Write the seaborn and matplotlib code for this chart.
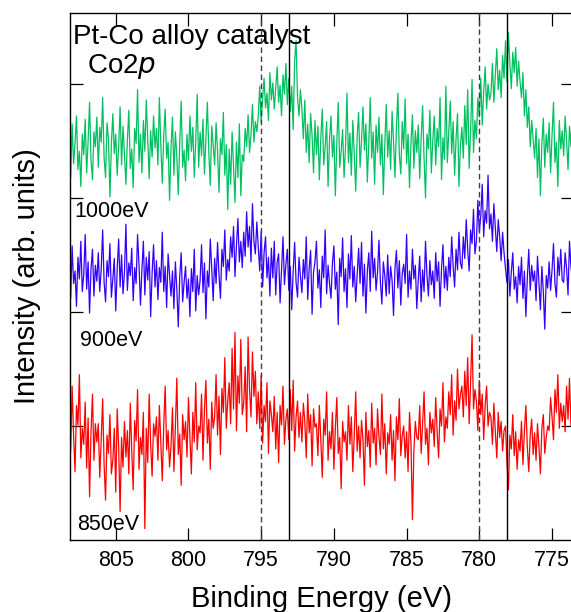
import numpy as np
import pandas as pd
import matplotlib
matplotlib.use("Agg")
import matplotlib.pyplot as plt
import seaborn as sns

# binding energy grid, 0.1 eV step from 808.2 eV down to 773.3 eV (35 rows of 10 points)
energy = np.round(808.2 - 0.1 * np.arange(350), 1)

# Co2p spectra, intensity in arb. units (x100), each already shifted for stacking
green_1000 = [
    352, 318, 365, 330, 348, 372, 325, 341, 310, 356,
    338, 369, 322, 350, 384, 333, 316, 358, 345, 371,
    327, 362, 349, 388, 335, 318, 366, 352, 301, 347,
    374, 339, 356, 320, 345, 380, 329, 363, 338, 312,
    351, 377, 326, 343, 309, 361, 348, 395, 331, 356,
    322, 368, 341, 386, 352, 317, 359, 336, 372, 344,
    361, 329, 388, 346, 313, 355, 378, 335, 349, 298,
    344, 371, 320, 358, 336, 303, 349, 385, 327, 342,
    315, 356, 333, 372, 341, 362, 318, 350, 391, 327,
    358, 337, 369, 321, 352, 384, 340, 311, 363, 346,
    329, 366, 341, 305, 352, 338, 375, 320, 347, 290,
    343, 312, 358, 326, 296, 349, 318, 365, 302, 338,
    332, 361, 345, 373, 340, 356, 382, 349, 367, 358,
    372, 398, 366, 388, 405, 379, 392, 368, 410, 386,
    401, 378, 396, 415, 384, 399, 372, 408, 391, 418,
    382, 405, 376, 398, 360, 420, 438, 388, 372, 395,
    378, 352, 386, 340, 365, 331, 374, 355, 322, 368,
    338, 363, 316, 352, 378, 329, 345, 367, 310, 351,
    372, 336, 355, 302, 348, 384, 327, 341, 360, 318,
    345, 392, 331, 357, 320, 368, 339, 306, 354, 375,
    327, 351, 380, 342, 365, 314, 349, 388, 335, 358,
    312, 364, 340, 371, 329, 356, 303, 347, 382, 336,
    359, 325, 376, 350, 318, 362, 392, 338, 321, 367,
    343, 387, 330, 356, 309, 348, 373, 326, 359, 340,
    364, 317, 352, 381, 335, 300, 356, 343, 377, 322,
    350, 372, 329, 361, 345, 388, 316, 353, 334, 398,
    331, 358, 385, 339, 367, 320, 352, 374, 310, 346,
    362, 335, 381, 347, 395, 326, 358, 404, 340, 368,
    352, 388, 371, 405, 364, 393, 415, 378, 400, 386,
    392, 418, 384, 408, 431, 395, 412, 388, 425, 405,
    438, 402, 445, 418, 396, 428, 410, 432, 398, 420,
    402, 388, 410, 372, 395, 362, 380, 345, 368, 352,
    335, 361, 318, 352, 302, 348, 370, 327, 356, 340,
    366, 322, 355, 384, 331, 349, 310, 368, 343, 359,
    337, 372, 350, 325, 363, 345, 380, 332, 358, 347,
]

blue_900 = [
    240, 212, 258, 225, 236, 205, 248, 229, 262, 218,
    233, 268, 220, 244, 199, 238, 255, 214, 241, 227,
    252, 218, 237, 272, 226, 209, 245, 231, 260, 213,
    229, 247, 201, 238, 264, 222, 250, 216, 235, 277,
    219, 243, 232, 256, 210, 239, 225, 268, 241, 206,
    237, 262, 215, 248, 228, 253, 196, 234, 259, 222,
    245, 211, 239, 226, 270, 218, 240, 204, 251, 233,
    214, 236, 203, 244, 220, 187, 231, 252, 209, 226,
    240, 212, 229, 196, 238, 218, 255, 201, 232, 215,
    228, 259, 217, 243, 194, 236, 222, 264, 238, 210,
    247, 225, 261, 233, 212, 255, 240, 272, 228, 246,
    236, 266, 248, 275, 231, 258, 282, 244, 262, 239,
    270, 249, 288, 257, 275, 244, 295, 262, 251, 279,
    258, 236, 271, 222, 252, 266, 230, 248, 214, 256,
    230, 262, 215, 244, 251, 208, 237, 266, 224, 242,
    255, 219, 240, 202, 236, 261, 226, 213, 248, 231,
    217, 246, 229, 266, 211, 238, 254, 198, 235, 244,
    262, 221, 237, 204, 249, 230, 272, 216, 241, 225,
    212, 243, 258, 220, 235, 189, 247, 231, 265, 218,
    238, 204, 251, 229, 267, 222, 240, 209, 233, 256,
    225, 261, 214, 242, 199, 236, 252, 218, 271, 230,
    247, 219, 235, 263, 226, 207, 244, 232, 214, 250,
    216, 240, 228, 197, 238, 254, 221, 245, 206, 234,
    242, 225, 268, 213, 236, 220, 255, 229, 241, 203,
    228, 249, 209, 237, 218, 262, 232, 214, 245, 224,
    236, 212, 252, 227, 244, 205, 238, 259, 221, 240,
    219, 248, 231, 266, 240, 222, 255, 237, 270, 243,
    238, 266, 247, 281, 255, 236, 272, 260, 290, 251,
    262, 298, 270, 284, 312, 266, 289, 278, 320, 273,
    286, 262, 295, 274, 253, 281, 266, 245, 270, 252,
    238, 226, 246, 214, 235, 252, 220, 231, 208, 240,
    224, 248, 212, 236, 196, 230, 255, 219, 241, 227,
    236, 210, 249, 225, 202, 240, 218, 185, 232, 221,
    244, 219, 237, 260, 225, 213, 248, 232, 255, 228,
    226, 252, 238, 215, 262, 240, 229, 257, 236, 248,
]

red_850 = [
    112, 78, 135, 92, 60, 118, 101, 145, 72, 98,
    84, 121, 63, 107, 38, 95, 128, 70, 102, 86,
    102, 55, 88, 124, 66, 35, 92, 76, 110, 58,
    70, 98, 42, 115, 82, 25, 90, 64, 104, 73,
    96, 58, 120, 78, 44, 105, 87, 132, 62, 90,
    75, 112, 10, 98, 68, 128, 84, 56, 102, 91,
    108, 70, 118, 86, 52, 101, 135, 79, 96, 64,
    82, 116, 60, 99, 142, 75, 93, 48, 110, 88,
    104, 73, 125, 90, 58, 112, 86, 138, 79, 100,
    94, 128, 70, 115, 140, 85, 106, 62, 121, 98,
    108, 145, 92, 126, 75, 133, 112, 160, 98, 122,
    138, 102, 168, 115, 182, 96, 144, 120, 176, 110,
    120, 152, 95, 178, 132, 108, 165, 126, 148, 102,
    130, 98, 145, 85, 118, 104, 138, 76, 122, 110,
    95, 126, 80, 112, 68, 118, 101, 135, 84, 106,
    115, 88, 132, 96, 140, 78, 108, 122, 90, 112,
    86, 120, 104, 72, 128, 94, 110, 65, 115, 99,
    102, 74, 118, 88, 55, 106, 92, 130, 70, 95,
    80, 112, 62, 98, 125, 76, 90, 45, 104, 86,
    95, 70, 118, 84, 108, 60, 92, 130, 78, 100,
    72, 105, 88, 48, 112, 82, 96, 64, 120, 85,
    98, 66, 115, 90, 75, 128, 80, 102, 58, 94,
    84, 110, 70, 96, 52, 108, 88, 124, 74, 92,
    100, 72, 95, 60, 112, 85, 18, 78, 104, 90,
    88, 118, 76, 102, 130, 84, 98, 66, 112, 94,
    106, 82, 125, 95, 72, 115, 100, 138, 86, 108,
    98, 130, 110, 145, 92, 122, 105, 150, 115, 128,
    135, 108, 148, 118, 160, 102, 138, 180, 115, 132,
    122, 96, 140, 110, 128, 88, 118, 135, 100, 112,
    108, 84, 120, 95, 72, 112, 90, 104, 78, 96,
    100, 68, 44, 92, 80, 110, 74, 95, 62, 88,
    78, 104, 66, 96, 118, 82, 60, 92, 106, 75,
    94, 70, 102, 82, 58, 98, 110, 76, 90, 100,
    96, 125, 108, 88, 132, 112, 145, 98, 120, 104,
    118, 95, 135, 106, 142, 100, 122, 88, 128, 112,
]

series_names = ["1000eV", "900eV", "850eV"]
series_colors = ["#00c060", "#3300ff", "#ff0000"]
dashed_lines = [795.0, 780.0]
solid_lines = [793.1, 778.1]
xticks = [805, 800, 795, 790, 785, 780, 775]
yticks = [1, 2, 3, 4]

df = pd.concat([
    pd.DataFrame({"energy": energy, "intensity": np.array(v) / 100.0, "photon": name})
    for name, v in zip(series_names, [green_1000, blue_900, red_850])
])

sns.set_theme(style="white")
plt.rcParams["font.family"] = ["Liberation Sans", "DejaVu Sans"]
plt.rcParams["text.color"] = "black"
plt.rcParams["axes.labelcolor"] = "black"

fig = plt.figure(figsize=(5.71, 6.12), dpi=100)
ax = fig.add_axes([0.1226, 0.1176, 0.881, 0.8612])

sns.lineplot(data=df, x="energy", y="intensity", hue="photon",
             palette=dict(zip(series_names, series_colors)),
             estimator=None, sort=False, lw=0.9, legend=False, ax=ax)

for e in dashed_lines:
    ax.axvline(e, color="#404040", lw=1.0, ls=(0, (4, 2.5)), zorder=5)
for e in solid_lines:
    ax.axvline(e, color="black", lw=1.0, zorder=5)

ax.set_xlim(808.145, 773.555)
ax.set_ylim(0, 4.623)
ax.set_xticks(xticks)
ax.set_yticks(yticks)
ax.set_yticklabels([])
ax.tick_params(direction="in", length=9, width=0.9, colors="black",
               top=True, right=True, left=True, bottom=True, labelsize=15.5, pad=7)

for s in ax.spines.values():
    s.set_color("black")
    s.set_linewidth(1.0)
ax.spines["right"].set_visible(False)

ax.set_xlabel("Binding Energy (eV)", fontsize=21, labelpad=10)
ax.set_ylabel("Intensity (arb. units)", fontsize=21, labelpad=14)

ax.text(0.006, 0.941, "Pt-Co alloy catalyst", transform=ax.transAxes, fontsize=20,
        va="baseline", ha="left")
ax.text(0.034, 0.886, "Co2$\\it{p}$", transform=ax.transAxes, fontsize=20,
        va="baseline", ha="left")
ax.text(0.008, 0.613, "1000eV", transform=ax.transAxes, fontsize=15.5, va="baseline")
ax.text(0.020, 0.368, "900eV", transform=ax.transAxes, fontsize=15.5, va="baseline")
ax.text(0.014, 0.019, "850eV", transform=ax.transAxes, fontsize=15.5, va="baseline")

fig.savefig("out.png", dpi=100)
